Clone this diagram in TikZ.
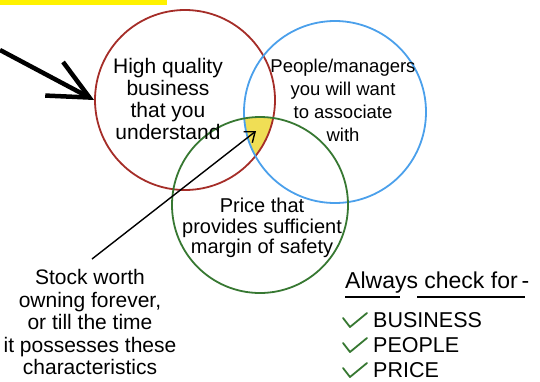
\documentclass[tikz,border=0pt]{standalone}
\usepackage{fontspec}
\setmainfont{Liberation Sans}
\usetikzlibrary{arrows.meta}

\definecolor{redpen}{RGB}{165,45,40}
\definecolor{bluepen}{RGB}{75,160,235}
\definecolor{greenpen}{RGB}{55,120,50}
\definecolor{sweetspot}{RGB}{240,222,85}

\tikzset{
  hand/.style={font=\fontsize{21}{22}\selectfont, align=center, inner sep=0pt},
  ring/.style={circle, draw, line width=1.8pt, inner sep=0pt, minimum size=#1},
  tick/.style={greenpen, line width=1.8pt, line cap=round, line join=round},
  item/.style={font=\fontsize{21.5}{23}\selectfont, anchor=base west, inner sep=0pt}
}

\begin{document}
\begin{tikzpicture}[x=1pt,y=-1pt]
\useasboundingbox (0,0) rectangle (540,381);

\fill[yellow] (0,0) rectangle (167,5);

% where all three meet
\begin{scope}
\clip (185,100) circle[radius=90pt];
\clip (335,112) circle[radius=91pt];
\fill[sweetspot] (260,205) circle[radius=88pt];
\end{scope}

\node[ring=180pt, redpen] (business) at (185,100) {};
\node[ring=182pt, bluepen] (managers) at (335,112) {};
\node[ring=176pt, greenpen] (safety) at (260,205) {};

\node[hand] (quality) at (168,99) {High quality\\business\\that you\\understand};
\node[hand, font=\fontsize{18.5}{23}\selectfont] (people) at (343,100) {People/managers\\you will want\\to associate\\with};
\node[hand, font=\fontsize{20}{20.5}\selectfont] (price) at (262,228) {Price that\\provides sufficient\\margin of safety};
\node[hand, font=\fontsize{21}{22.5}\selectfont] (stock) at (90,322) {Stock worth\\owning forever,\\or till the time\\it possesses these\\characteristics};

\coordinate (bigtail) at (0,50);
\coordinate (stocktail) at (92,259);
\coordinate (sweet) at (256,131);

\draw[line width=4.5pt, -{Straight Barb[length=40pt, width=38pt]}] (bigtail) -- (business.west);
\draw[line width=1.4pt, -{Straight Barb[length=9pt, width=14pt]}] (stocktail) -- (sweet);

\node[font=\fontsize{23}{24}\selectfont, anchor=base west, inner sep=0pt] (always) at (345,288) {Always check for\,-};
\draw[line width=1.8pt] (345,297) -- (400,297);
\draw[line width=1.8pt] (417,297) -- (525,297);

\foreach \word/\yy in {BUSINESS/327, PEOPLE/352, PRICE/377} {
  \draw[tick] (343,\yy-9) -- (350,\yy) -- (367,\yy-14);
  \node[item] (\word) at (373,\yy) {\word};
}

\end{tikzpicture}
\end{document}
